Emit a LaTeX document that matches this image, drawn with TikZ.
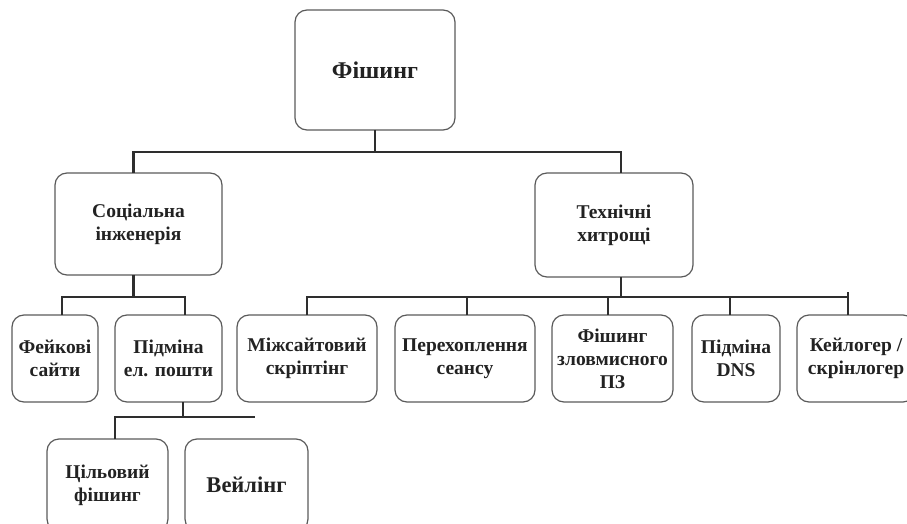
\documentclass[tikz,border=0pt]{standalone}
\usepackage{fontspec}
\setmainfont{Liberation Serif}
\usetikzlibrary{positioning}
\definecolor{boxline}{HTML}{5A5A5A}
\definecolor{connline}{HTML}{2E2E2E}
\definecolor{textcol}{HTML}{222222}
\tikzset{
  every node/.style={outer sep=0pt,inner sep=0pt},
  conn/.style={draw=connline,line width=2.2pt},
}
\tikzset{item/.style={
    draw=boxline,
    line width=1.2pt,
    rounded corners=12pt,
    minimum width=#1,
    minimum height=87pt,
    align=center,
    text=textcol,
    font=\bfseries\fontsize{19.5}{23}\selectfont
  },
  item/.default=140pt}
\begin{document}
\begin{tikzpicture}[x=1pt,y=-1pt]
  \useasboundingbox (0,0) rectangle (907,524);
  % top level
  \node (phish) [item=160pt,minimum height=120pt,font=\bfseries\fontsize{24}{26}\selectfont] at (375,70) {Фішинг};
  \node (social) [item=167pt,minimum height=102pt] at (138.5,224) {Соціальна\\інженерія};
  \node (tech) [item=158pt,minimum height=104pt] at (614,225) {Технічні\\хитрощі};

  % social branch
  \node (fake) [item=86pt] at (55,358.5) {Фейкові\\сайти};
  \node (mail) [item=107pt] at (168.5,358.5) {Підміна\\ел. пошти};
  \node (spear) [item=121pt,minimum height=92pt] at (107.5,485) {Цільовий\\фішинг};
  \node (whale) [item=123pt,minimum height=92pt,font=\bfseries\fontsize{22.5}{24}\selectfont] at (246.5,485) {Вейлінг};

  % technical branch
  \node (xss) [item=140pt] at (307,358.5) {Міжсайтовий\\скріптінг};
  \node (session) [item=140pt] at (465,358.5) {Перехоплення\\сеансу};
  \node (malware) [item=121pt] at (612.5,358.5) {Фішинг\\зловмисного\\ПЗ};
  \node (dns) [item=88pt] at (736,358.5) {Підміна\\DNS};
  \node (keylog) [item=118pt] at (856,358.5) {Кейлогер /\\скрінлогер};

  \draw [conn] (phish.south) -- ++(0,22) coordinate (bus_top);
  \draw [conn] ([xshift=-5pt] social.north) |- (bus_top) -| ([xshift=7pt] tech.north);

  \draw [conn] ([xshift=-5pt] social.south) -- ++(0,22) coordinate (bus_social);
  \draw [conn] ([xshift=7pt] fake.north) |- (bus_social) -| ([xshift=16.5pt] mail.north);

  \draw [conn] ([xshift=14.5pt] mail.south) -- ++(0,15) coordinate (bus_mail);
  \draw [conn] ([xshift=7.5pt] spear.north) |- (bus_mail) -- ([xshift=8.5pt] bus_mail-|whale.north);

  \draw [conn] ([xshift=7pt] tech.south) -- ++(0,20) coordinate (bus_tech);
  \draw [conn] (xss.north) |- (bus_tech) -- ([xshift=-8pt] bus_tech-|keylog.north);
  \draw [conn] ([xshift=2pt] session.north) -- ([xshift=2pt] session.north|-bus_tech);
  \draw [conn] ([xshift=-4.5pt] malware.north) -- ([xshift=-4.5pt] malware.north|-bus_tech);
  \draw [conn] ([xshift=-6pt] dns.north) -- ([xshift=-6pt] dns.north|-bus_tech);
  \draw [conn] ([xshift=-8pt] keylog.north) -- ([xshift=-8pt,yshift=5pt] keylog.north|-bus_tech);
\end{tikzpicture}
\end{document}
